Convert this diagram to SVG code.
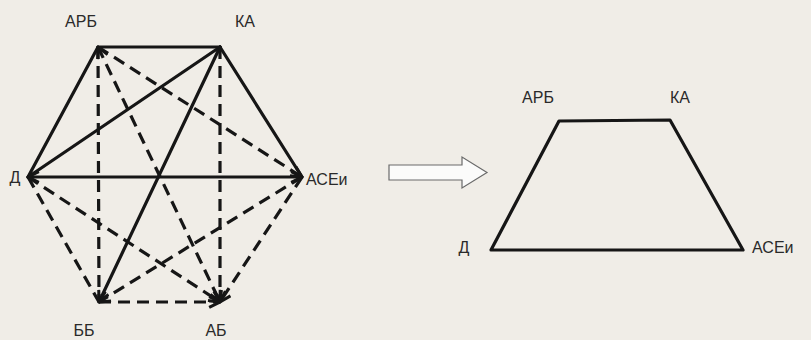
<svg xmlns="http://www.w3.org/2000/svg" width="811" height="340" viewBox="0 0 811 340">
<style>
.bg{fill:#f0ede7}
.lbl{font-family:"Liberation Sans",Arial,sans-serif;font-size:16px;fill:#2a2a2a}
.s{stroke:#161616;stroke-width:3.2;fill:none;stroke-linecap:round}
.d{stroke:#161616;stroke-width:3.2;fill:none;stroke-dasharray:12 7}
.big{fill:#fbfbfa;stroke:#6a6a6a;stroke-width:1.2}
</style>
<defs>
<marker id="ah" viewBox="0 0 12 12" markerWidth="13" markerHeight="13" refX="11" refY="6" orient="auto-start-reverse" markerUnits="userSpaceOnUse">
<path d="M1,1 L11,6 L1,11" fill="none" stroke="#161616" stroke-width="2.8" stroke-dasharray="none"/>
</marker>
</defs>
<rect class="bg" x="0" y="0" width="811" height="340"/>
<g id="left-graph">
<g id="nodeL-ARB"><text class="lbl" x="81" y="27" text-anchor="middle">АРБ</text></g>
<g id="nodeL-KA"><text class="lbl" x="245" y="27" text-anchor="middle">КА</text></g>
<g id="nodeL-D"><text class="lbl" x="15" y="183" text-anchor="middle">Д</text></g>
<g id="nodeL-ASEi"><text class="lbl" x="306" y="185">АСЕи</text></g>
<g id="nodeL-BB"><text class="lbl" x="84" y="336" text-anchor="middle">ББ</text></g>
<g id="nodeL-AB"><text class="lbl" x="216" y="336" text-anchor="middle">АБ</text></g>
<g id="connectors-left">
<line class="s" x1="98" y1="47" x2="220" y2="47"/>
<line class="s" x1="98" y1="47" x2="28" y2="177"/>
<line class="s" x1="220" y1="47" x2="28" y2="177"/>
<line class="s" x1="220" y1="47" x2="302" y2="177"/>
<line class="s" x1="28" y1="177" x2="302" y2="177" marker-start="url(#ah)" marker-end="url(#ah)"/>
<line class="s" x1="220" y1="47" x2="99" y2="302" marker-end="url(#ah)"/>
<line class="d" x1="98" y1="47" x2="99" y2="302"/>
<line class="d" x1="98" y1="47" x2="302" y2="177" marker-end="url(#ah)"/>
<line class="d" x1="98" y1="47" x2="220" y2="302" marker-start="url(#ah)" marker-end="url(#ah)"/>
<line class="d" x1="220" y1="47" x2="220" y2="302" marker-end="url(#ah)"/>
<line class="d" x1="28" y1="177" x2="99" y2="302"/>
<line class="d" x1="28" y1="177" x2="220" y2="302" marker-end="url(#ah)"/>
<line class="d" x1="302" y1="177" x2="99" y2="302" marker-end="url(#ah)"/>
<line class="d" x1="302" y1="177" x2="220" y2="302" marker-end="url(#ah)"/>
<line class="d" x1="99" y1="302" x2="220" y2="302" marker-end="url(#ah)"/>
</g>
</g>
<g id="transform-arrow">
<polygon class="big" points="389,165 462,165 462,157 487,172.5 462,188 462,180 389,180"/>
</g>
<g id="right-graph">
<g id="nodeR-ARB"><text class="lbl" x="538" y="103" text-anchor="middle">АРБ</text></g>
<g id="nodeR-KA"><text class="lbl" x="680" y="103" text-anchor="middle">КА</text></g>
<g id="nodeR-D"><text class="lbl" x="464" y="253" text-anchor="middle">Д</text></g>
<g id="nodeR-ASEi"><text class="lbl" x="752" y="253">АСЕи</text></g>
<g id="connectors-right">
<polygon class="s" points="491,250 559,121 670,120 743,250" stroke-width="3.6" stroke-linejoin="round"/>
</g>
</g>
</svg>
